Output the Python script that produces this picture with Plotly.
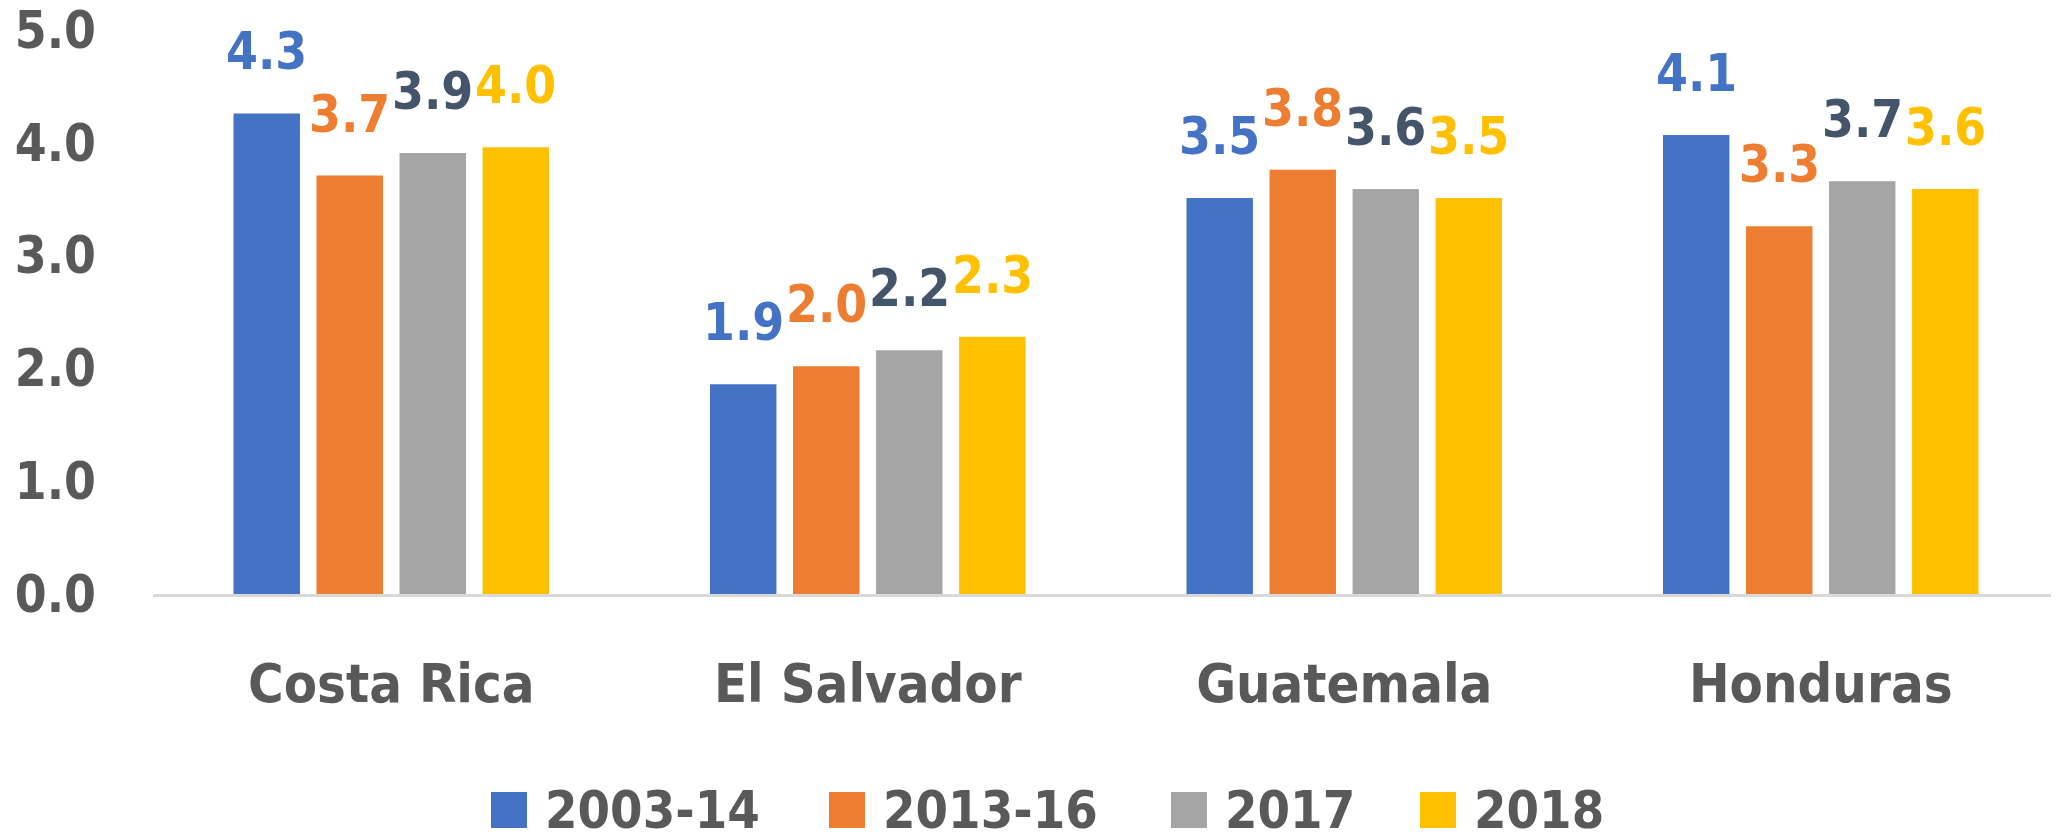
import plotly.graph_objects as go

# Data
categories = ["Costa Rica", "El Salvador", "Guatemala", "Honduras"]
series_names = ["2003-14", "2013-16", "2017", "2018"]
values_2003_14 = [4.26, 1.86, 3.51, 4.07]
values_2013_16 = [3.71, 2.02, 3.76, 3.26]
values_2017 = [3.91, 2.16, 3.59, 3.66]
values_2018 = [3.96, 2.28, 3.51, 3.59]
y_ticks = [0, 1, 2, 3, 4, 5]

# Styling
bar_colors = ["#4472C4", "#ED7D31", "#A5A5A5", "#FFC000"]
label_colors = ["#4472C4", "#ED7D31", "#44546A", "#FFC000"]
FONT = "DejaVu Sans Condensed, DejaVu Sans, sans-serif"
TEXT_COLOR = "#595959"

# the page body has an 8px margin, so the figure is 8px smaller than the window
W, H = 2051, 832
M_L, M_R, M_T, M_B = 145, 0, 22, 246
BARGAP, GROUPGAP = 0.303, 0.2
plot_w = W - M_L - M_R
plot_h = H - M_T - M_B

# legend layout (pixels, figure coords)
legend_x = [483, 821, 1163, 1412]
legend_y = 802
swatch = 36


def px_to_paper_x(px):
    return (px - M_L) / plot_w


def py_to_paper_y(py):
    return (H - M_B - py) / plot_h


all_values = [values_2003_14, values_2013_16, values_2017, values_2018]

fig = go.Figure()
for name, vals, color in zip(series_names, all_values, bar_colors):
    fig.add_trace(go.Bar(
        x=categories,
        y=vals,
        name=name,
        marker=dict(color=color, line=dict(width=0)),
        showlegend=False,
        hovertemplate='%{x}: %{y:.1f}<extra>' + name + '</extra>'
    ))

# Data labels above the bars
n = len(series_names)
slot = plot_w / len(categories) * (1 - BARGAP) / n
annotations = []
for i, (vals, lc) in enumerate(zip(all_values, label_colors)):
    for cat, v in zip(categories, vals):
        annotations.append(dict(
            x=cat, y=v, xref="x", yref="y",
            text=f"{v:.1f}",
            showarrow=False,
            xshift=(i - (n - 1) / 2) * slot,
            yanchor="bottom",
            yshift=30,
            font=dict(family=FONT, size=51, color=lc, weight="bold")
        ))

# Legend drawn by hand so the swatches can be large
shapes = []
for name, color, lx in zip(series_names, bar_colors, legend_x):
    shapes.append(dict(
        type="rect", xref="paper", yref="paper",
        xsizemode="pixel", ysizemode="pixel",
        xanchor=px_to_paper_x(lx), yanchor=py_to_paper_y(legend_y),
        x0=0, x1=swatch, y0=-swatch / 2, y1=swatch / 2,
        fillcolor=color, line=dict(width=0)
    ))
    annotations.append(dict(
        x=px_to_paper_x(lx + swatch + 16), y=py_to_paper_y(legend_y),
        xref="paper", yref="paper",
        text=name, showarrow=False,
        xanchor="left", yanchor="middle",
        font=dict(family=FONT, size=52, color=TEXT_COLOR, weight="bold")
    ))

fig.update_layout(
    width=W,
    height=H,
    barmode="group",
    bargap=BARGAP,
    bargroupgap=GROUPGAP,
    margin=dict(l=M_L, r=M_R, t=M_T, b=M_B, autoexpand=False),
    plot_bgcolor="white",
    paper_bgcolor="white",
    font=dict(family=FONT, color=TEXT_COLOR),
    annotations=annotations,
    shapes=shapes,
    showlegend=False
)

fig.update_xaxes(
    showgrid=False,
    showline=True,
    linecolor="#D9D9D9",
    linewidth=3,
    ticks="",
    ticklabelstandoff=40,
    tickfont=dict(family=FONT, size=54, color=TEXT_COLOR, weight="bold")
)
fig.update_yaxes(
    range=[0, 5],
    tickvals=y_ticks,
    tickformat=".1f",
    showgrid=False,
    zeroline=False,
    showline=False,
    ticks="",
    ticklabelstandoff=56,
    ticklabeloverflow="allow",
    tickfont=dict(family=FONT, size=51, color=TEXT_COLOR, weight="bold")
)

fig.write_html("out.html")
